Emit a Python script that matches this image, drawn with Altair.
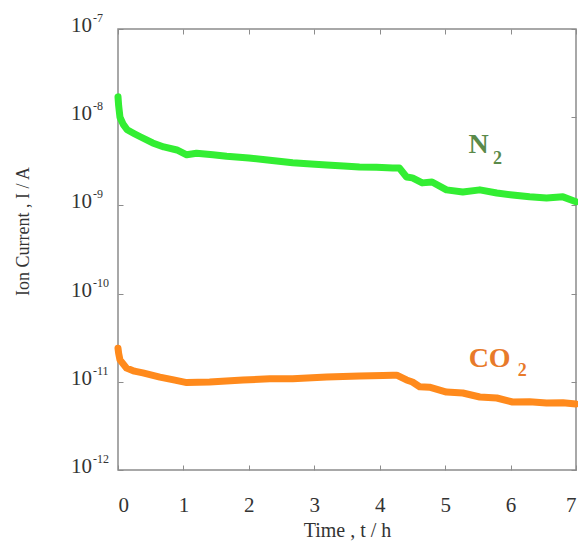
import altair as alt
import pandas as pd

# N2 ion current (time in h, current in A)
t_n2 = [0.0, 0.01, 0.03, 0.08, 0.14, 0.25, 0.34, 0.53, 0.7, 0.9, 1.05, 1.2, 1.45, 1.66, 2.0,
        2.32, 2.67, 2.95, 3.19, 3.45, 3.69, 3.95, 4.2, 4.3, 4.41, 4.5, 4.65, 4.8, 5.02, 5.27,
        5.53, 5.79, 6.03, 6.29, 6.55, 6.8, 7.0]
i_n2 = [1.7e-8, 1.35e-8, 1.0e-8, 8.3e-9, 7.2e-9, 6.5e-9, 6.0e-9, 5.1e-9, 4.6e-9, 4.25e-9, 3.75e-9,
        3.9e-9, 3.75e-9, 3.6e-9, 3.45e-9, 3.25e-9, 3.05e-9, 2.95e-9, 2.87e-9, 2.8e-9, 2.72e-9,
        2.7e-9, 2.65e-9, 2.65e-9, 2.1e-9, 2.05e-9, 1.8e-9, 1.84e-9, 1.5e-9, 1.42e-9, 1.5e-9,
        1.38e-9, 1.31e-9, 1.25e-9, 1.21e-9, 1.25e-9, 1.1e-9]

# CO2 ion current
t_co2 = [0.0, 0.01, 0.03, 0.13, 0.25, 0.38, 0.64, 0.85, 1.05, 1.4, 1.91, 2.32, 2.67, 3.19, 3.69,
         4.05, 4.2, 4.26, 4.41, 4.5, 4.61, 4.76, 5.02, 5.27, 5.53, 5.79, 6.03, 6.29, 6.55, 6.8, 7.0]
i_co2 = [2.4e-11, 2.1e-11, 1.77e-11, 1.43e-11, 1.32e-11, 1.26e-11, 1.13e-11, 1.05e-11, 9.8e-12,
         9.95e-12, 1.05e-11, 1.08e-11, 1.08e-11, 1.13e-11, 1.16e-11, 1.18e-11, 1.19e-11, 1.19e-11,
         1.05e-11, 9.95e-12, 8.8e-12, 8.7e-12, 7.66e-12, 7.46e-12, 6.73e-12, 6.55e-12, 5.9e-12,
         5.95e-12, 5.75e-12, 5.8e-12, 5.6e-12]

# annotation labels (main part and subscript), positioned in data units
lab_main_text = ["N", "CO"]
lab_main_t = [5.51, 5.68]
lab_main_i = [4.84e-9, 1.82e-11]
lab_sub_text = ["2", "2"]
lab_sub_t = [5.80, 6.18]
lab_sub_i = [3.36e-9, 1.32e-11]
lab_gas = ["N2", "CO2"]

# y tick labels: base "10" and exponent
y_ticks = [1e-12, 1e-11, 1e-10, 1e-9, 1e-8, 1e-7]
y_exponents = ["-12", "-11", "-10", "-9", "-8", "-7"]
x_ticks = [0, 1, 2, 3, 4, 5, 6, 7]

df = pd.concat([
    pd.DataFrame({"t": t_n2, "I": i_n2, "gas": "N2"}),
    pd.DataFrame({"t": t_co2, "I": i_co2, "gas": "CO2"}),
])
lab_main = pd.DataFrame({"t": lab_main_t, "I": lab_main_i, "text": lab_main_text, "gas": lab_gas})
lab_sub = pd.DataFrame({"t": lab_sub_t, "I": lab_sub_i, "text": lab_sub_text, "gas": lab_gas})
ylab = pd.DataFrame({"I": y_ticks, "base": ["10"] * len(y_ticks), "exp": y_exponents})

xscale = alt.Scale(domain=[0, 7], nice=False, zero=False)
yscale = alt.Scale(type="log", domain=[1e-12, 1e-7], nice=False)

FRAME = "#8c8c8c"
TXT = "#333333"
SERIF = "Liberation Serif"
common_axis = dict(ticks=True, tickSize=5, tickColor=FRAME, tickWidth=1, domain=False,
                   grid=False, offset=-5)

xb = alt.X("t:Q", scale=xscale, axis=alt.Axis(
    orient="bottom", values=x_ticks, title="Time , t  / h", labelFontSize=21, labelPadding=24,
    titleFontSize=20, titlePadding=5, labelFont=SERIF, titleFont=SERIF,
    titleFontWeight="normal", labelColor=TXT, titleColor=TXT, **common_axis))
yl = alt.Y("I:Q", scale=yscale, axis=alt.Axis(
    orient="left", values=y_ticks, labels=False, title="Ion Current , I / A",
    titleFontSize=18, titleFont=SERIF, titleFontWeight="normal",
    titleColor=TXT, titleX=-100, titleY=202, titleAlign="center", titleBaseline="middle",
    **common_axis))
xt = alt.X("t:Q", scale=xscale, axis=alt.Axis(orient="top", values=x_ticks, labels=False,
                                              title=None, **common_axis))
yr = alt.Y("I:Q", scale=yscale, axis=alt.Axis(orient="right", values=y_ticks, labels=False,
                                              title=None, **common_axis))

color = alt.Color("gas:N", scale=alt.Scale(domain=["N2", "CO2"], range=["#33ee33", "#ff8a1c"]),
                  legend=None)


def tcolor():
    return alt.Color("gas:N", scale=alt.Scale(domain=["N2", "CO2"], range=["#5a8a4a", "#e87a2a"]),
                     legend=None)


lines = alt.Chart(df).mark_line(strokeWidth=7, strokeCap="round", strokeJoin="round").encode(
    x=xb, y=yl, color=color, detail="gas:N")

main_text = alt.Chart(lab_main).mark_text(font=SERIF, fontSize=28, fontWeight="bold",
                                          align="center", baseline="middle").encode(
    x=xt, y=yr, text="text:N", color=tcolor())
sub_text = alt.Chart(lab_sub).mark_text(font=SERIF, fontSize=18, fontWeight="bold",
                                        align="center", baseline="middle").encode(
    x=alt.X("t:Q", scale=xscale, axis=None), y=alt.Y("I:Q", scale=yscale, axis=None),
    text="text:N", color=tcolor())

ybase = alt.Chart(ylab).mark_text(font=SERIF, fontSize=21, align="right", baseline="middle",
                                  color=TXT, dy=-3).encode(
    x=alt.value(-26), y=alt.Y("I:Q", scale=yscale, axis=None), text="base:N")
yexp = alt.Chart(ylab).mark_text(font=SERIF, fontSize=12, align="left", baseline="middle",
                                 color=TXT, dy=-11).encode(
    x=alt.value(-25), y=alt.Y("I:Q", scale=yscale, axis=None), text="exp:N")

chart = alt.layer(lines, main_text, sub_text, ybase, yexp).resolve_scale(
    x="independent", y="independent", color="independent").properties(
    width=458, height=441, autosize=alt.AutoSizeParams(type="none"),
    padding={"left": 118, "top": 29, "right": 2, "bottom": 74},
    background="white",
).configure_view(stroke=FRAME, strokeWidth=1.5)

chart.save("out.html", embed_options={"renderer": "svg", "actions": False})
